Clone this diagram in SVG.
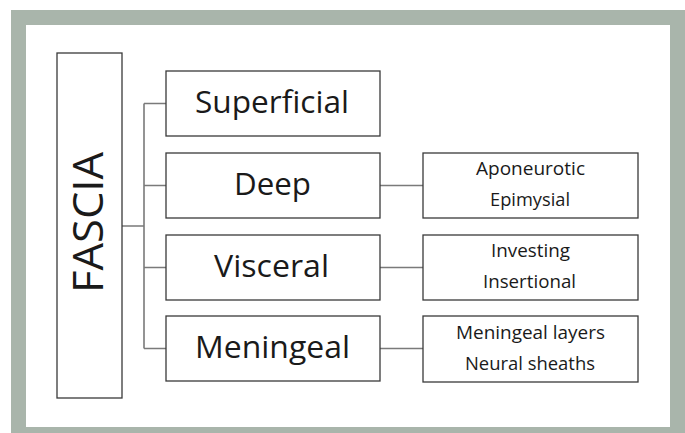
<svg xmlns="http://www.w3.org/2000/svg" width="685" height="433" viewBox="0 0 685 433">
<style>
.box{fill:#fff;stroke:#3a3a3a;stroke-width:1.3}
.con{fill:none;stroke:#7a7a7a;stroke-width:1.6}
.t{font-family:"Open Sans","Noto Sans","Liberation Sans",sans-serif;fill:#1a1a1a;text-anchor:middle}
.m{font-size:31px}
.s{font-size:18px}
</style>
<rect x="11" y="10" width="674" height="423" fill="#a9b5ab"/>
<rect x="26" y="25" width="644" height="402" fill="#fff"/>
<g id="connectors">
<path class="con" d="M122 226H144M144 103.5V348.5M144 103.5H166M144 185.5H166M144 267.5H166M144 348.5H166M380 185.5H423M380 267.5H423M380 348.5H423"/>
</g>
<g id="fascia">
<rect class="box" x="57" y="53" width="65" height="345"/>
<text class="t" transform="translate(103,222.5) rotate(-90)" font-size="42" textLength="141" lengthAdjust="spacingAndGlyphs">FASCIA</text>
</g>
<g id="superficial">
<rect class="box" x="166" y="71" width="214" height="65"/>
<text class="t m" x="272" y="113" textLength="154" lengthAdjust="spacingAndGlyphs">Superficial</text>
</g>
<g id="deep">
<rect class="box" x="166" y="153" width="214" height="65"/>
<text class="t m" x="272.5" y="195" textLength="77" lengthAdjust="spacingAndGlyphs">Deep</text>
</g>
<g id="visceral">
<rect class="box" x="166" y="235" width="214" height="65"/>
<text class="t m" x="271.5" y="277" textLength="115" lengthAdjust="spacingAndGlyphs">Visceral</text>
</g>
<g id="meningeal">
<rect class="box" x="166" y="316" width="214" height="65"/>
<text class="t m" x="272.5" y="358" textLength="155" lengthAdjust="spacingAndGlyphs">Meningeal</text>
</g>
<g id="deep-types">
<rect class="box" x="423" y="153" width="215" height="65"/>
<text class="t s" x="530.5" y="175" textLength="109" lengthAdjust="spacingAndGlyphs">Aponeurotic</text>
<text class="t s" x="530" y="206" textLength="80" lengthAdjust="spacingAndGlyphs">Epimysial</text>
</g>
<g id="visceral-types">
<rect class="box" x="423" y="235" width="215" height="65"/>
<text class="t s" x="530.5" y="257" textLength="79" lengthAdjust="spacingAndGlyphs">Investing</text>
<text class="t s" x="529.5" y="288" textLength="93" lengthAdjust="spacingAndGlyphs">Insertional</text>
</g>
<g id="meningeal-types">
<rect class="box" x="423" y="316" width="215" height="66"/>
<text class="t s" x="530.5" y="339" textLength="149" lengthAdjust="spacingAndGlyphs">Meningeal layers</text>
<text class="t s" x="530" y="370" textLength="130" lengthAdjust="spacingAndGlyphs">Neural sheaths</text>
</g>
</svg>
